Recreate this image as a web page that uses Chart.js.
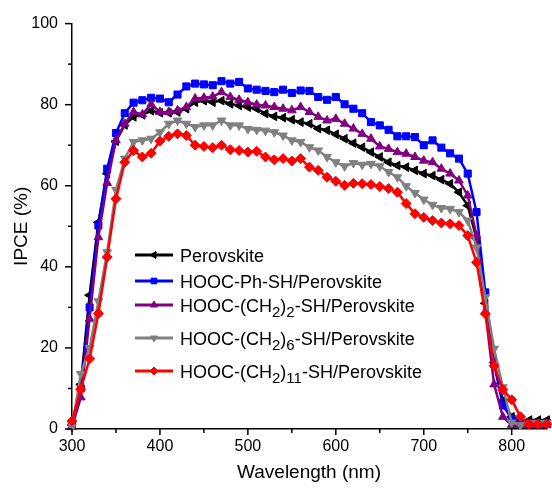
<!DOCTYPE html>
<html>
<head>
<meta charset="utf-8">
<script src="https://cdn.jsdelivr.net/npm/chart.js@4.4.1/dist/chart.umd.min.js"></script>
<style>
  html, body { margin: 0; padding: 0; background: #fff; }
  #wrap { width: 552px; height: 491px; }
</style>
</head>
<body>
<div id="wrap"><canvas id="ipceChart" width="552" height="491"></canvas></div>
<script>
// Wavelength (nm)
const wavelengths = [300, 310, 320, 330, 340, 350, 360, 370, 380, 390,
  400, 410, 420, 430, 440, 450, 460, 470, 480, 490,
  500, 510, 520, 530, 540, 550, 560, 570, 580, 590,
  600, 610, 620, 630, 640, 650, 660, 670, 680, 690,
  700, 710, 720, 730, 740, 750, 760, 770, 780, 790,
  800, 810, 820, 830, 840, 850];

// IPCE (%) per sample
const perovskite = [1, 11, 33, 51, 63, 71, 75, 77, 77.5, 78.5,
  78, 78, 78.2, 79, 80.6, 81, 80.6, 81, 80.2, 79.8,
  79.4, 79, 77.8, 77.1, 76.8, 76.3, 75.7, 75.3, 74.1, 73.7,
  72.7, 71.6, 70.5, 69.5, 68.3, 67.1, 65.8, 65, 64.6, 63.8,
  63, 62.5, 61.5, 60.5, 58.4, 55.1, 47, 31, 16.4, 7,
  3, 2.2, 2.2, 2.2, 2.2, 2.2];
const phSH = [1, 10, 30, 50.2, 64.2, 73, 77.9, 80.5, 81.1, 81.7,
  81.5, 80.6, 82.5, 84.5, 85.2, 85, 84.8, 85.8, 85.2, 85.6,
  84, 83.7, 83.4, 83.1, 83.7, 82.9, 83.5, 83.4, 81.9, 81.2,
  81.9, 80.1, 79, 77.9, 75.7, 74.9, 73.8, 72.2, 72.2, 72,
  70, 71.2, 69.4, 68, 66.7, 63, 53.5, 33.7, 16, 5.8,
  2.5, 1.5, 1.5, 1.5, 1.5, 1.5];
const ch2SH = [0.5, 7.8, 27.2, 47.3, 60.7, 71.2, 75.3, 78.2, 77.6, 80.1,
  78.2, 78.2, 78.6, 79.4, 81.5, 81.7, 82, 83.1, 81.9, 81.2,
  80.6, 80, 79.8, 79.4, 79, 78.6, 79.4, 78.2, 77, 76.1,
  76.5, 75.3, 74.1, 72.8, 71.6, 69.7, 69.1, 68.3, 67.9, 67.1,
  66.2, 65.8, 64.2, 63, 61.3, 57.6, 47.7, 29, 11, 3,
  1, 1, 1, 1, 1, 1];
const ch6SH = [0.5, 13.6, 20, 31.5, 43.6, 59, 66.7, 70.8, 71.2, 71.6,
  73.2, 75.3, 76.1, 75.3, 74.5, 74.9, 74.9, 76.1, 74.9, 74.9,
  74, 73.8, 73.6, 73.2, 72.4, 71.2, 70.8, 69.5, 68.7, 67.1,
  65.8, 64.8, 65.6, 65.2, 65.4, 64.8, 63.4, 62.1, 59.9, 58.2,
  56.6, 55.3, 54.5, 54.3, 53.5, 51.4, 44.8, 32.5, 19.8, 10.3,
  1.6, 1, 1.5, 1.5, 1.5, 1.5];
const ch11SH = [2, 9.8, 17.3, 28.5, 42.4, 56.8, 65.8, 68.7, 67.1, 68,
  71, 72.2, 72.8, 72.4, 70, 69.7, 69.4, 70, 68.9, 68.7,
  68.3, 68.5, 67.1, 66.4, 66.7, 66.1, 66.7, 64.6, 63.8, 62.1,
  61.1, 60.1, 60.6, 60.5, 60.3, 59.8, 59.3, 58.4, 55.6, 53.1,
  52.2, 51.4, 50.8, 50.6, 50.2, 47.7, 41.1, 28.4, 15.6, 9.7,
  7.2, 3, 1.2, 1.2, 1.2, 1.2];

// "_{n}" marks a subscript
const seriesNames = [
  'Perovskite',
  'HOOC-Ph-SH/Perovskite',
  'HOOC-(CH_{2})_{2}-SH/Perovskite',
  'HOOC-(CH_{2})_{6}-SH/Perovskite',
  'HOOC-(CH_{2})_{11}-SH/Perovskite'
];
const seriesValues = [perovskite, phSH, ch2SH, ch6SH, ch11SH];
const seriesColors = ['#000000', '#0000ff', '#800080', '#808080', '#ff0000'];
const seriesMarkers = ['triangle', 'rect', 'triangle', 'triangle', 'rectRot'];
const markerRotation = [-90, 0, 0, 180, 0];

const FONT = "'Liberation Sans', Arial, sans-serif";

// legend row centers
const legendRows = [255, 281, 305, 338, 371];

function splitSub(text) {
    const parts = [];
    const re = /_\{(\d+)\}/g;
    let last = 0, m;
    while ((m = re.exec(text)) !== null) {
        if (m.index > last) parts.push({ t: text.slice(last, m.index), sub: false });
        parts.push({ t: m[1], sub: true });
        last = re.lastIndex;
    }
    if (last < text.length) parts.push({ t: text.slice(last), sub: false });
    return parts;
}

// outward major/minor ticks
const tickMarks = {
    id: 'tickMarks',
    afterDraw(chart) {
        const { ctx, chartArea, scales: { x, y } } = chart;
        ctx.save();
        ctx.strokeStyle = '#000';
        ctx.lineWidth = 1.5;
        x.ticks.forEach(t => {
            if (t.value % 50 !== 0) return;
            const px = x.getPixelForValue(t.value);
            const len = t.value % 100 === 0 ? 6 : 4;
            ctx.beginPath();
            ctx.moveTo(px, chartArea.bottom);
            ctx.lineTo(px, chartArea.bottom + len);
            ctx.stroke();
        });
        y.ticks.forEach(t => {
            const py = y.getPixelForValue(t.value);
            const len = t.value % 20 === 0 ? 7 : 4;
            ctx.beginPath();
            ctx.moveTo(chartArea.left, py);
            ctx.lineTo(chartArea.left - len, py);
            ctx.stroke();
        });
        ctx.restore();
    }
};

// legend with subscripts
const subLegend = {
    id: 'subLegend',
    afterDatasetsDraw(chart) {
        const { ctx } = chart;
        ctx.save();
        seriesNames.forEach((name, i) => {
            const yc = legendRows[i];
            ctx.strokeStyle = seriesColors[i];
            ctx.fillStyle = seriesColors[i];
            ctx.lineWidth = 3;
            ctx.beginPath();
            ctx.moveTo(135, yc);
            ctx.lineTo(173, yc);
            ctx.stroke();
            ctx.lineWidth = 1;
            Chart.helpers.drawPoint(ctx, {
                pointStyle: seriesMarkers[i],
                rotation: markerRotation[i],
                radius: 4,
                borderWidth: 1
            }, 154, yc);

            ctx.fillStyle = '#000';
            ctx.textBaseline = 'alphabetic';
            let xPos = 180;
            splitSub(name).forEach(p => {
                ctx.font = (p.sub ? '15px ' : '18px ') + FONT;
                ctx.fillText(p.t, xPos, yc + (p.sub ? 12 : 6.5));
                xPos += ctx.measureText(p.t).width;
            });
        });
        ctx.restore();
    }
};

const datasets = seriesValues.map((vals, i) => ({
    label: seriesNames[i].replace(/_\{(\d+)\}/g, '$1'),
    data: vals.map((v, k) => ({ x: wavelengths[k], y: v })),
    borderColor: seriesColors[i],
    backgroundColor: seriesColors[i],
    borderWidth: 2.5,
    pointStyle: seriesMarkers[i],
    rotation: markerRotation[i],
    pointRadius: 5,
    pointBorderWidth: 1,
    pointBackgroundColor: seriesColors[i],
    pointBorderColor: seriesColors[i],
    tension: 0,
    clip: false,
    order: seriesNames.length - i
}));

new Chart(document.getElementById('ipceChart'), {
    type: 'line',
    data: { datasets: datasets },
    options: {
        responsive: false,
        animation: false,
        devicePixelRatio: 1,
        layout: { padding: { top: 23, right: 0, bottom: 0, left: 0 } },
        plugins: {
            legend: { display: false },
            tooltip: { enabled: false }
        },
        scales: {
            x: {
                type: 'linear',
                min: 300,
                max: 839,
                afterFit: s => { s.height = 62; s.paddingRight = 0; },
                grid: { display: false, drawTicks: false },
                border: { display: true, color: '#000', width: 1.5 },
                ticks: {
                    stepSize: 50,
                    includeBounds: false,
                    padding: 8,
                    color: '#000',
                    font: { family: FONT, size: 16 },
                    maxRotation: 0,
                    autoSkip: false,
                    callback: v => (v % 100 === 0 ? v : '')
                },
                title: {
                    display: true,
                    text: 'Wavelength (nm)',
                    color: '#000',
                    font: { family: FONT, size: 19 },
                    padding: { top: 0, bottom: 7 }
                }
            },
            y: {
                min: 0,
                max: 100,
                afterFit: s => { s.width = 72; },
                grid: { display: false, drawTicks: false },
                border: { display: true, color: '#000', width: 1.5 },
                ticks: {
                    stepSize: 10,
                    includeBounds: false,
                    padding: 14,
                    color: '#000',
                    font: { family: FONT, size: 16 },
                    autoSkip: false,
                    callback: v => (v % 20 === 0 ? v : '')
                },
                title: {
                    display: true,
                    text: 'IPCE (%)',
                    color: '#000',
                    font: { family: FONT, size: 19 },
                    padding: { top: 10, bottom: 0 }
                }
            }
        }
    },
    plugins: [tickMarks, subLegend]
});
</script>
</body>
</html>
